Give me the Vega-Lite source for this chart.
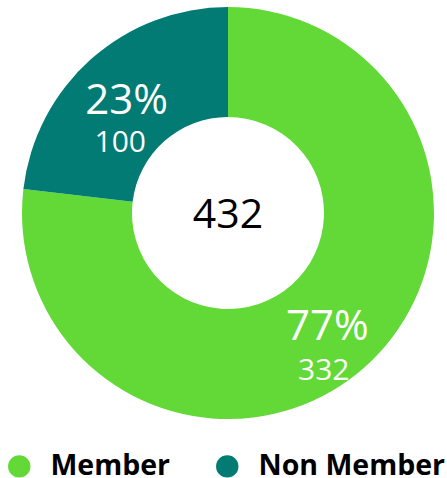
{
  "$schema": "https://vega.github.io/schema/vega-lite/v6.json",
  "width": 456,
  "height": 426,
  "autosize": "pad",
  "padding": 0,
  "background": "white",
  "view": {"stroke": null},
  "data": {"values": [
    {"category": "Member", "count": 332, "share": 0.77},
    {"category": "Non Member", "count": 100, "share": 0.23}
  ]},
  "layer": [
    {
      "mark": {"type": "arc", "outerRadius": 206, "innerRadius": 96},
      "encoding": {
        "theta": {"field": "count", "type": "quantitative", "stack": true},
        "order": {"field": "count", "type": "quantitative", "sort": "descending"},
        "color": {
          "field": "category", "type": "nominal",
          "scale": {"domain": ["Member", "Non Member"], "range": ["#62d936", "#017b73"]},
          "legend": {
            "orient": "none", "legendX": 5, "legendY": 452, "direction": "horizontal",
            "title": null, "symbolType": "circle", "symbolSize": 500, "symbolStrokeWidth": 0,
            "labelFont": "Open Sans", "labelFontWeight": "bold", "labelFontSize": 28.5, "labelColor": "black",
            "labelOffset": 17, "columnPadding": 42, "labelLimit": 0
          }
        }
      }
    },
    {
      "mark": {"type": "text", "radius": 151, "font": "Open Sans", "fontSize": 42, "color": "white", "dx": -1, "dy": 1, "align": "center", "baseline": "middle"},
      "encoding": {
        "theta": {"field": "count", "type": "quantitative", "stack": true},
        "order": {"field": "count", "type": "quantitative", "sort": "descending"},
        "text": {"field": "share", "type": "quantitative", "format": ".0%"}
      }
    },
    {
      "mark": {"type": "text", "radius": 153, "font": "Open Sans", "fontSize": 30, "color": "white", "dx": -6, "dy": 44, "align": "center", "baseline": "middle"},
      "encoding": {
        "theta": {"field": "count", "type": "quantitative", "stack": true},
        "order": {"field": "count", "type": "quantitative", "sort": "descending"},
        "text": {"field": "count", "type": "quantitative"}
      }
    },
    {
      "transform": [{"aggregate": [{"op": "sum", "field": "count", "as": "total"}]}],
      "mark": {"type": "text", "font": "Open Sans", "fontSize": 41, "color": "black", "align": "center", "baseline": "middle", "dy": 3},
      "encoding": {
        "text": {"field": "total", "type": "quantitative"}
      }
    }
  ]
}
